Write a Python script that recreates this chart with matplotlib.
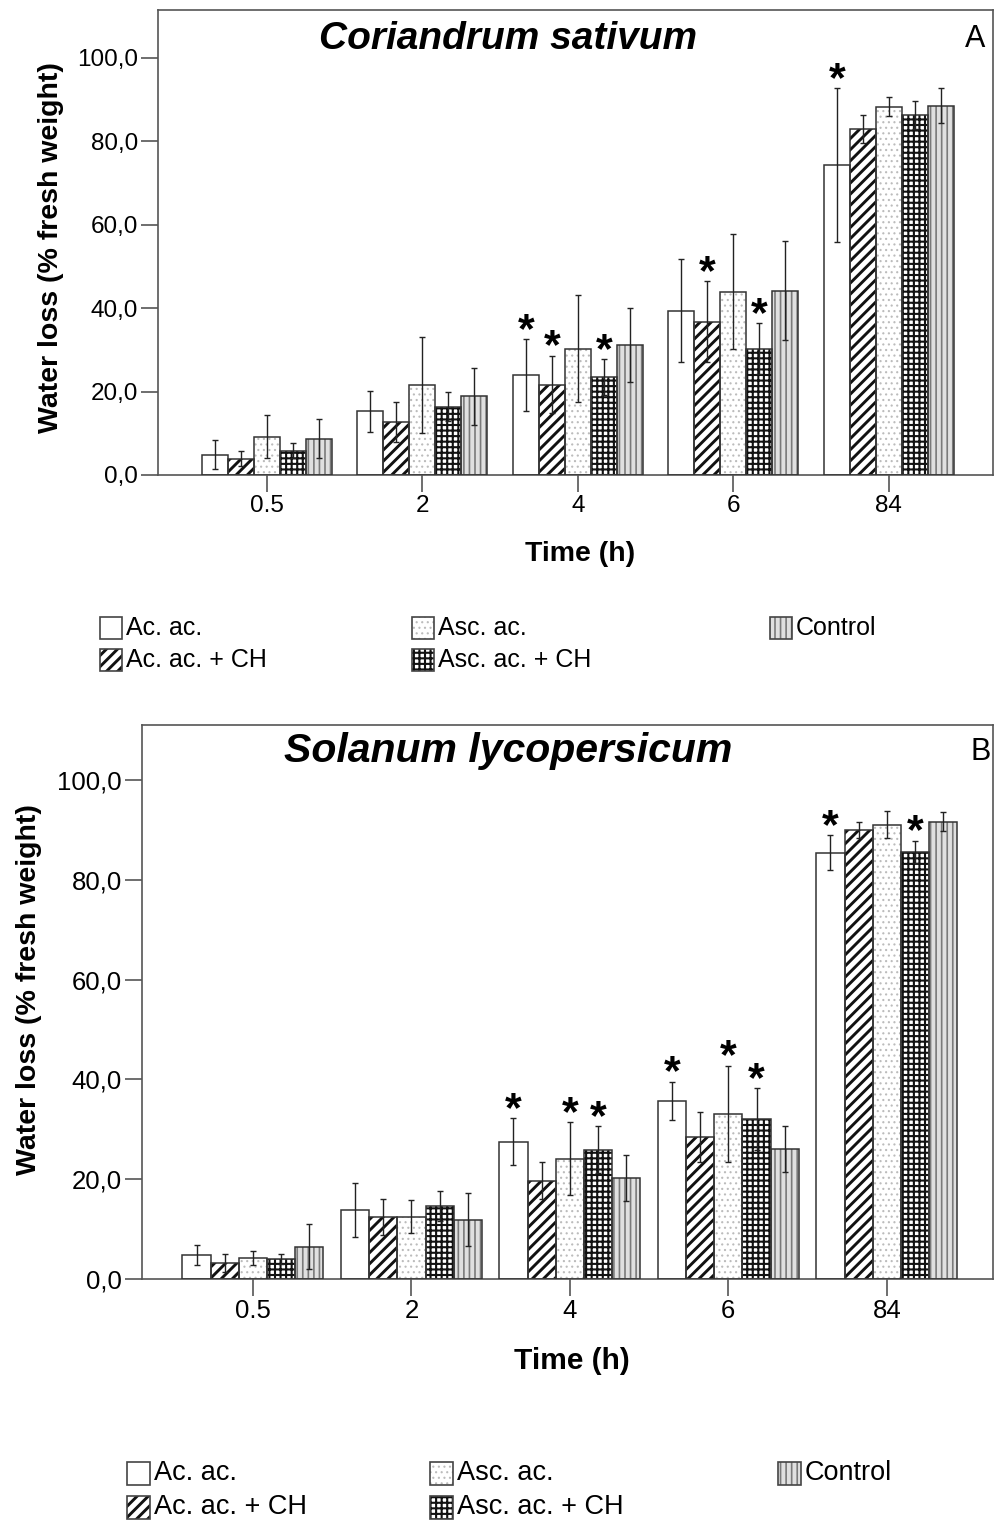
import matplotlib
matplotlib.use("Agg")
import matplotlib.pyplot as plt
from matplotlib.patches import Rectangle
import numpy as np

plt.rcParams['font.family'] = ['Liberation Sans', 'DejaVu Sans']

# ---------------- data ----------------
times = ["0.5", "2", "4", "6", "84"]
series_names = ["Ac. ac.", "Ac. ac. + CH", "Asc. ac.", "Asc. ac. + CH", "Control"]
ytick_vals = [0, 20, 40, 60, 80, 100]
ytick_labels = ["0,0", "20,0", "40,0", "60,0", "80,0", "100,0"]

# Panel A: Coriandrum sativum
a_acac = [4.9, 15.3, 23.9, 39.4, 74.3]
a_acac_err = [3.5, 4.9, 8.6, 12.4, 18.5]
a_acch = [3.9, 12.7, 21.7, 36.8, 82.9]
a_acch_err = [1.8, 4.8, 6.9, 9.6, 3.4]
a_asc = [9.2, 21.5, 30.3, 44.0, 88.3]
a_asc_err = [5.1, 11.5, 12.9, 13.7, 2.3]
a_ascch = [5.8, 16.4, 23.5, 30.3, 86.3]
a_ascch_err = [1.8, 3.5, 4.3, 6.1, 3.4]
a_ctrl = [8.7, 18.9, 31.2, 44.2, 88.6]
a_ctrl_err = [4.7, 6.8, 8.8, 11.8, 4.2]
a_sig_acac = [0, 0, 1, 0, 1]
a_sig_acch = [0, 0, 1, 1, 0]
a_sig_asc = [0, 0, 0, 0, 0]
a_sig_ascch = [0, 0, 1, 1, 0]
a_sig_ctrl = [0, 0, 0, 0, 0]

# Panel B: Solanum lycopersicum
b_acac = [4.8, 13.9, 27.5, 35.7, 85.4]
b_acac_err = [2.0, 5.4, 4.7, 3.8, 3.5]
b_acch = [3.3, 12.5, 19.7, 28.5, 90.0]
b_acch_err = [1.8, 3.6, 3.7, 5.0, 1.6]
b_asc = [4.3, 12.5, 24.1, 33.1, 91.0]
b_asc_err = [1.4, 3.3, 7.3, 9.6, 2.7]
b_ascch = [4.0, 14.7, 25.9, 32.0, 85.6]
b_ascch_err = [1.0, 3.0, 4.7, 6.2, 2.2]
b_ctrl = [6.5, 11.9, 20.3, 26.0, 91.6]
b_ctrl_err = [4.5, 5.3, 4.6, 4.6, 1.9]
b_sig_acac = [0, 0, 1, 1, 1]
b_sig_acch = [0, 0, 0, 0, 0]
b_sig_asc = [0, 0, 1, 1, 0]
b_sig_ascch = [0, 0, 1, 1, 1]
b_sig_ctrl = [0, 0, 0, 0, 0]

# ---------------- styles ----------------
styles = [
    dict(face='white', hatch=None, hcolor='black', hlw=1.0),
    dict(face='white', hatch='///', hcolor='#111111', hlw=2.1),
    dict(face='white', hatch='...', hcolor='#bcbcbc', hlw=0.8),
    dict(face='white', hatch='+++', hcolor='#111111', hlw=1.5),
    dict(face='#e0e0e0', hatch='|||', hcolor='#7a7a7a', hlw=1.2),
]
OUTLINE = '#333333'
SPINE = '#555555'

W, H = 994, 1522
fig = plt.figure(figsize=(W / 100, H / 100), dpi=100)


def add_axes_px(left, right, top, bottom):
    return fig.add_axes([left / W, 1 - bottom / H, (right - left) / W, (bottom - top) / H])


def set_hlw(patches, lw):
    for p in patches:
        if hasattr(p, 'set_hatch_linewidth'):
            p.set_hatch_linewidth(lw)


def draw_panel(ax, data, width, ymax, tick_fs, label_fs, xlabel_fs, title, letter, title_fs,
               ylabel_xy, xlabel_y, title_xy, letter_xy):
    x = np.arange(len(times))
    for i, (vals, errs, sig) in enumerate(data):
        st = styles[i]
        xs = x + (i - 2) * width
        with plt.rc_context({'hatch.linewidth': st['hlw']}):
            bars = ax.bar(xs, vals, width, color=st['face'], edgecolor=st['hcolor'],
                          hatch=st['hatch'], linewidth=0, zorder=2)
        set_hlw(bars, st['hlw'])
        ax.bar(xs, vals, width, fill=False, edgecolor=OUTLINE, linewidth=1.1, zorder=3)
        ax.errorbar(xs, vals, yerr=errs, fmt='none', ecolor='#222222', elinewidth=1.0,
                    capsize=2.5, capthick=1.0, zorder=4)
        for xi, v, e, s in zip(xs, vals, errs, sig):
            if s:
                ax.annotate('*', (xi, v + e), xytext=(0, 6), textcoords='offset points',
                            ha='center', va='center', fontsize=31, fontweight='bold',
                            zorder=5)
    ax.set_xlim(-0.7, 4.67)
    ax.set_ylim(0, ymax)
    ax.set_xticks(x)
    ax.set_xticklabels(times)
    ax.set_yticks(ytick_vals)
    ax.set_yticklabels(ytick_labels)
    ax.tick_params(axis='both', direction='out', length=12.5, width=1.2, color=SPINE,
                   labelsize=tick_fs, pad=2)
    for sp in ax.spines.values():
        sp.set_color(SPINE)
        sp.set_linewidth(1.2)
    ax.set_ylabel("Water loss (% fresh weight)", fontsize=label_fs, fontweight='bold')
    ax.yaxis.set_label_coords(*ylabel_xy)
    ax.set_xlabel("Time (h)", fontsize=xlabel_fs, fontweight='bold')
    ax.xaxis.set_label_coords(0.505, xlabel_y)
    ax.text(title_xy[0], title_xy[1], title, transform=ax.transAxes, ha='center',
            va='center', fontsize=title_fs, fontweight='bold', fontstyle='italic')
    ax.text(letter_xy[0], letter_xy[1], letter, transform=ax.transAxes, ha='center',
            va='center', fontsize=22)


def draw_legend(cols_px, rows_px, fs, size):
    placement = [(0, 0), (0, 1), (1, 0), (1, 1), (2, 0)]
    for i, (c, r) in enumerate(placement):
        st = styles[i]
        left = cols_px[c]
        cy = rows_px[r]
        with plt.rc_context({'hatch.linewidth': st['hlw']}):
            p = Rectangle((left / W, 1 - (cy + size / 2) / H), size / W, size / H,
                          transform=fig.transFigure, facecolor=st['face'],
                          edgecolor=st['hcolor'], hatch=st['hatch'], linewidth=0)
        set_hlw([p], st['hlw'])
        fig.add_artist(p)
        fig.add_artist(Rectangle((left / W, 1 - (cy + size / 2) / H), size / W, size / H,
                                 transform=fig.transFigure, fill=False,
                                 edgecolor='#444444', linewidth=1.2))
        fig.text((left + size + 4) / W, 1 - cy / H, series_names[i], fontsize=fs,
                 ha='left', va='center')


axA = add_axes_px(158, 993, 10, 475)
dataA = [(a_acac, a_acac_err, a_sig_acac), (a_acch, a_acch_err, a_sig_acch),
         (a_asc, a_asc_err, a_sig_asc), (a_ascch, a_ascch_err, a_sig_ascch),
         (a_ctrl, a_ctrl_err, a_sig_ctrl)]
draw_panel(axA, dataA, 0.167, 111.5, 17.5, 20.5, 20.5, "Coriandrum sativum", "A", 28,
           (-0.113, 0.49), -0.142, (0.419, 0.937), (0.978, 0.937))

axB = add_axes_px(142, 993, 725, 1279)
dataB = [(b_acac, b_acac_err, b_sig_acac), (b_acch, b_acch_err, b_sig_acch),
         (b_asc, b_asc_err, b_sig_asc), (b_ascch, b_ascch_err, b_sig_ascch),
         (b_ctrl, b_ctrl_err, b_sig_ctrl)]
draw_panel(axB, dataB, 0.178, 111.0, 18.5, 20.5, 21.5, "Solanum lycopersicum", "B", 29.5,
           (-0.1175, 0.522), -0.123, (0.430, 0.953), (0.985, 0.951))

draw_legend([100, 412, 770], [628, 660], 18, 22)
draw_legend([127, 430, 778], [1473, 1507], 19.5, 23)

fig.savefig("out.png", dpi=100)
